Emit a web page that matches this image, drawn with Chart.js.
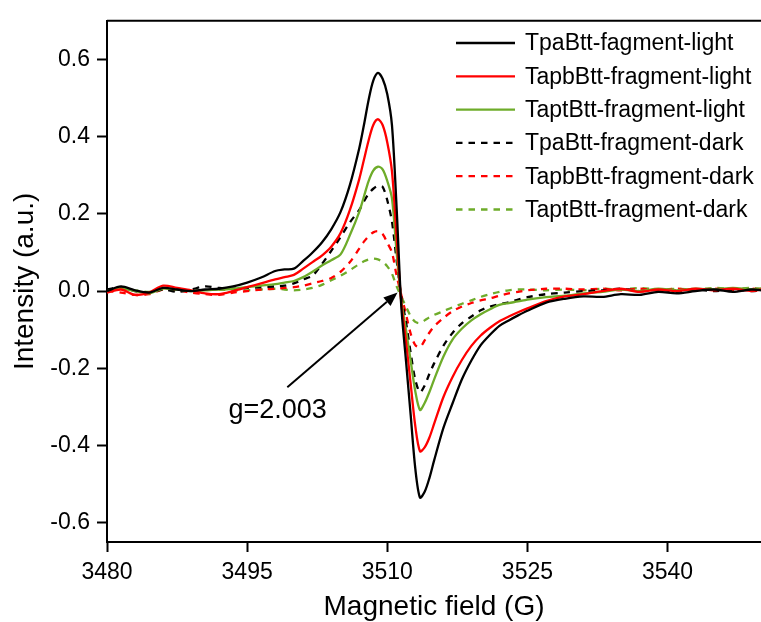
<!DOCTYPE html>
<html>
<head>
<meta charset="utf-8">
<script src="https://cdn.jsdelivr.net/npm/chart.js@4.4.1/dist/chart.umd.min.js"></script>
<style>
  body { margin: 0; background: #fff; }
  #wrap { width: 761px; height: 622px; }
</style>
</head>
<body>
<div id="wrap"><canvas id="myChart" width="761" height="622"></canvas></div>
<script>
// Magnetic field (G), shared by every series
var field = [3480, 3481.5, 3483, 3484.5, 3486, 3487.5, 3489, 3490.5, 3492, 3493.5, 3495, 3496.5, 3498,
  3499, 3500, 3501, 3502, 3503, 3504, 3505, 3506, 3507,
  3507.5, 3508, 3508.5, 3509, 3509.5, 3510, 3510.5, 3511, 3511.5, 3512, 3512.5, 3513, 3513.5, 3514, 3514.5, 3515,
  3516, 3517, 3518, 3519, 3520, 3521, 3522, 3523, 3524, 3525,
  3527, 3529, 3531, 3533, 3535, 3537, 3539, 3541, 3543, 3545, 3547, 3549, 3550];

var tpaLight = [0.000, 0.012, 0.002, -0.004, 0.008, 0.004, 0.000, 0.004, 0.006, 0.012, 0.022, 0.035, 0.052,
  0.056, 0.058, 0.078, 0.100, 0.126, 0.160, 0.205, 0.275, 0.370,
  0.430, 0.495, 0.545, 0.565, 0.550, 0.510, 0.430, 0.215, -0.040, -0.180, -0.320, -0.460, -0.535, -0.520, -0.485, -0.440,
  -0.355, -0.290, -0.228, -0.180, -0.140, -0.113, -0.090, -0.076, -0.063, -0.051,
  -0.030, -0.020, -0.014, -0.015, -0.008, -0.010, -0.002, -0.006, 0.000, 0.004, -0.002, 0.004, 0.002];

var tapbLight = [-0.004, 0.004, -0.010, -0.004, 0.014, 0.008, 0.002, -0.006, -0.008, 0.000, 0.010, 0.020, 0.030,
  0.036, 0.042, 0.058, 0.075, 0.092, 0.115, 0.150, 0.210, 0.290,
  0.340, 0.390, 0.430, 0.445, 0.430, 0.385, 0.310, 0.140, -0.030, -0.130, -0.240, -0.350, -0.415, -0.405, -0.380, -0.345,
  -0.275, -0.222, -0.178, -0.142, -0.115, -0.095, -0.078, -0.066, -0.055, -0.045,
  -0.026, -0.014, -0.008, 0.000, 0.006, -0.002, 0.004, 0.000, 0.006, 0.002, 0.006, 0.000, 0.004];

var taptLight = [0.000, 0.006, 0.000, -0.006, 0.006, 0.004, 0.000, 0.002, 0.004, 0.006, 0.010, 0.014, 0.018,
  0.022, 0.026, 0.036, 0.050, 0.066, 0.080, 0.095, 0.145, 0.205,
  0.245, 0.285, 0.312, 0.322, 0.315, 0.285, 0.240, 0.100, -0.025, -0.100, -0.180, -0.260, -0.308, -0.290, -0.262, -0.230,
  -0.170, -0.125, -0.097, -0.076, -0.060, -0.047, -0.036, -0.031, -0.027, -0.022,
  -0.016, -0.012, -0.006, -0.002, 0.004, 0.000, 0.006, 0.002, 0.006, 0.004, 0.008, 0.004, 0.006];

var tpaDark = [0.004, 0.010, 0.000, -0.004, 0.004, -0.002, 0.004, 0.012, 0.008, 0.006, 0.008, 0.010, 0.012,
  0.014, 0.020, 0.030, 0.040, 0.070, 0.104, 0.140, 0.178, 0.210,
  0.232, 0.252, 0.265, 0.272, 0.270, 0.235, 0.180, 0.080, -0.015, -0.080, -0.160, -0.230, -0.262, -0.245, -0.215, -0.188,
  -0.142, -0.108, -0.083, -0.066, -0.050, -0.040, -0.034, -0.029, -0.022, -0.016,
  -0.008, -0.004, 0.000, 0.002, 0.006, 0.000, 0.004, -0.002, 0.004, 0.000, 0.004, 0.000, 0.002];

var tapbDark = [0.000, -0.004, -0.010, -0.008, 0.004, 0.002, -0.004, -0.008, -0.010, -0.004, 0.000, 0.004, 0.006,
  0.008, 0.010, 0.014, 0.020, 0.026, 0.034, 0.050, 0.075, 0.110,
  0.128, 0.142, 0.152, 0.155, 0.148, 0.125, 0.100, 0.040, -0.010, -0.060, -0.110, -0.140, -0.145, -0.128, -0.108, -0.092,
  -0.070, -0.052, -0.040, -0.031, -0.024, -0.019, -0.012, -0.006, -0.002, 0.002,
  0.006, 0.006, 0.004, 0.006, 0.002, 0.006, 0.002, 0.006, 0.002, 0.006, 0.002, 0.006, 0.004];

var taptDark = [0.002, 0.006, 0.002, -0.002, 0.004, 0.002, 0.000, 0.002, 0.004, 0.002, 0.002, 0.004, 0.006,
  0.004, 0.002, 0.004, 0.008, 0.016, 0.028, 0.040, 0.054, 0.070,
  0.077, 0.082, 0.084, 0.082, 0.076, 0.064, 0.045, 0.012, -0.015, -0.040, -0.065, -0.080, -0.083, -0.076, -0.068, -0.062,
  -0.052, -0.042, -0.033, -0.024, -0.015, -0.008, -0.002, 0.002, 0.004, 0.004,
  0.002, 0.004, 0.002, 0.006, 0.004, 0.008, 0.004, 0.006, 0.004, 0.008, 0.006, 0.008, 0.006];

var seriesNames = ['TpaBtt-fagment-light', 'TapbBtt-fragment-light', 'TaptBtt-fragment-light',
  'TpaBtt-fragment-dark', 'TapbBtt-fragment-dark', 'TaptBtt-fragment-dark'];

var xTicks = [3480, 3495, 3510, 3525, 3540];
var yTicks = [-0.6, -0.4, -0.2, 0.0, 0.2, 0.4, 0.6];

// g-value label and the arrow that points to the crossing (data units)
var gLabel = 'g=2.003';
var gLabelPos = [3493.0, -0.33];
var arrowFrom = [3499.3, -0.249];
var arrowTo = [3511.1, -0.004];

document.addEventListener('DOMContentLoaded', function () {
  var ctx = document.getElementById('myChart').getContext('2d');
  var FONT = '"Liberation Sans", Arial, sans-serif';
  var GREEN = '#6eac2a';

  Chart.defaults.font.family = FONT;
  Chart.defaults.color = '#000';

  function points(values) {
    return field.map(function (x, i) { return { x: x, y: values[i] }; });
  }

  function serie(i, values, color, dashed) {
    return {
      label: seriesNames[i],
      data: points(values),
      borderColor: color,
      borderWidth: 2.3,
      borderDash: dashed ? [6.5, 6] : [],
      pointRadius: 0,
      fill: false,
      tension: 0.3
    };
  }

  // legend, top frame line and the g=2.003 annotation
  var extras = {
    id: 'extras',
    afterDatasetsDraw: function (chart) {
      var c = chart.ctx, area = chart.chartArea;
      var xs = chart.scales.x, ys = chart.scales.y;
      c.save();

      // top frame
      c.strokeStyle = '#000';
      c.lineWidth = 2;
      c.beginPath();
      c.moveTo(area.left, area.top);
      c.lineTo(area.right, area.top);
      c.stroke();

      // arrow
      var x0 = xs.getPixelForValue(arrowFrom[0]), y0 = ys.getPixelForValue(arrowFrom[1]);
      var x1 = xs.getPixelForValue(arrowTo[0]), y1 = ys.getPixelForValue(arrowTo[1]);
      var ang = Math.atan2(y1 - y0, x1 - x0);
      var head = 14, half = 5.5;
      var bx = x1 - head * Math.cos(ang), by = y1 - head * Math.sin(ang);
      c.beginPath();
      c.moveTo(x0, y0);
      c.lineTo(bx, by);
      c.stroke();
      c.fillStyle = '#000';
      c.beginPath();
      c.moveTo(x1, y1);
      c.lineTo(bx + half * Math.sin(ang), by - half * Math.cos(ang));
      c.lineTo(bx - half * Math.sin(ang), by + half * Math.cos(ang));
      c.closePath();
      c.fill();

      c.font = '27px ' + FONT;
      c.textAlign = 'left';
      c.textBaseline = 'alphabetic';
      c.fillText(gLabel, xs.getPixelForValue(gLabelPos[0]), ys.getPixelForValue(gLabelPos[1]));

      // legend
      c.font = '23px ' + FONT;
      c.textBaseline = 'middle';
      chart.data.datasets.forEach(function (ds, i) {
        var y = 43 + i * 33.3;
        c.strokeStyle = ds.borderColor;
        c.lineWidth = 2.3;
        c.setLineDash(ds.borderDash);
        c.beginPath();
        c.moveTo(456, y);
        c.lineTo(515, y);
        c.stroke();
        c.setLineDash([]);
        c.fillStyle = '#000';
        c.fillText(ds.label, 525, y + 1);
      });
      c.restore();
    }
  };

  var config = {
    type: 'line',
    data: {
      datasets: [
        serie(0, tpaLight, '#000000', false),
        serie(1, tapbLight, '#ff0000', false),
        serie(2, taptLight, GREEN, false),
        serie(3, tpaDark, '#000000', true),
        serie(4, tapbDark, '#ff0000', true),
        serie(5, taptDark, GREEN, true)
      ]
    },
    options: {
      responsive: false,
      animation: false,
      layout: { padding: { top: 14, right: 0, left: 0, bottom: 0 } },
      plugins: { legend: { display: false }, tooltip: { enabled: false } },
      scales: {
        x: {
          type: 'linear',
          min: 3480,
          max: 3550,
          afterFit: function (axis) { axis.height = 80; },
          afterBuildTicks: function (axis) {
            axis.ticks = xTicks.map(function (v) { return { value: v }; });
          },
          grid: { drawOnChartArea: false, drawTicks: true, tickLength: 10, tickWidth: 2, tickColor: '#000' },
          border: { display: true, color: '#000', width: 2 },
          ticks: {
            font: { size: 23 },
            padding: 7,
            maxRotation: 0,
            color: '#000',
            callback: function (v) { return String(v); }
          },
          title: {
            display: true,
            text: 'Magnetic field (G)',
            font: { size: 28, lineHeight: 1 },
            padding: { top: 0, bottom: 1 },
            color: '#000'
          }
        },
        y: {
          min: -0.65,
          max: 0.70,
          afterFit: function (axis) { axis.width = 107; },
          afterBuildTicks: function (axis) {
            axis.ticks = yTicks.map(function (v) { return { value: v }; });
          },
          grid: { drawOnChartArea: false, drawTicks: true, tickLength: 10, tickWidth: 2, tickColor: '#000' },
          border: { display: true, color: '#000', width: 2 },
          ticks: {
            font: { size: 23 },
            padding: 7,
            color: '#000',
            callback: function (v) { return v.toFixed(1); }
          },
          title: {
            display: true,
            text: 'Intensity (a.u.)',
            font: { size: 28, lineHeight: 1 },
            padding: { top: 11, bottom: 0 },
            color: '#000'
          }
        }
      }
    },
    plugins: [extras]
  };

  window.myChart = new Chart(ctx, config);
});
</script>
</body>
</html>
